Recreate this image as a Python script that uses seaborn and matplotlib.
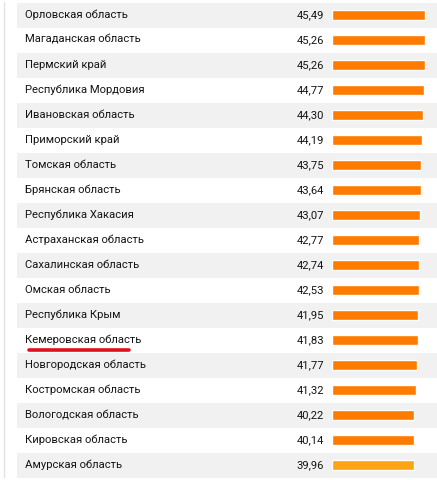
import matplotlib
matplotlib.use('Agg')
import matplotlib.pyplot as plt
import seaborn as sns
import pandas as pd

regions = [
    'Орловская область', 'Магаданская область', 'Пермский край',
    'Республика Мордовия', 'Ивановская область', 'Приморский край',
    'Томская область', 'Брянская область', 'Республика Хакасия',
    'Астраханская область', 'Сахалинская область', 'Омская область',
    'Республика Крым', 'Кемеровская область', 'Новгородская область',
    'Костромская область', 'Вологодская область', 'Кировская область',
    'Амурская область',
]
values = [45.49, 45.26, 45.26, 44.77, 44.30, 44.19, 43.75, 43.64, 43.07,
          42.77, 42.74, 42.53, 41.95, 41.83, 41.77, 41.32, 40.22, 40.14, 39.96]
highlight = 'Кемеровская область'

orange = '#ff7b00'
orange_light = '#ffa214'
colors = [orange] * (len(regions) - 1) + [orange_light]

df = pd.DataFrame({'region': regions, 'value': values})

sns.set_style('white')
plt.rcParams['font.family'] = ['Roboto', 'DejaVu Sans']

W, H = 437, 480
px = 2.045  # pixels per unit of value
x0 = 332    # bar baseline in pixels

fig = plt.figure(figsize=(W / 100, H / 100), dpi=100)
ax = fig.add_axes([0, 2.5 / H, 1, 475 / H])

sns.barplot(data=df, x='value', y='region', hue='region', palette=colors,
            orient='h', width=0.4, legend=False, ax=ax, saturation=1)

ax.set_xlim(-x0 / px, (W - x0) / px)
ax.set_ylim(len(regions) - 0.5, -0.5)

def to_data(xp):
    return (xp - x0) / px

# alternating row bands
for i in range(len(regions)):
    if i % 2 == 0:
        ax.axhspan(i - 0.5, i + 0.5, xmin=17 / W, xmax=1, color='#f1f1f1',
                   zorder=0, lw=0)

for i, (name, v) in enumerate(zip(regions, values)):
    ax.text(to_data(25), i, name, ha='left', va='center', fontsize=8.1,
            color='#141414')
    ax.text(to_data(324), i, f'{v:.2f}'.replace('.', ','), ha='right',
            va='center', fontsize=8.1, color='#141414')
    if name == highlight:
        ax.plot([to_data(29), to_data(129)], [i + 0.38, i + 0.38],
                color='#e0101e', lw=2.6, solid_capstyle='round', zorder=5)

ax.axvline(to_data(3.5), color='#e2e2e2', lw=1, zorder=0)

ax.set_axis_off()
fig.savefig('out.png', dpi=100)
